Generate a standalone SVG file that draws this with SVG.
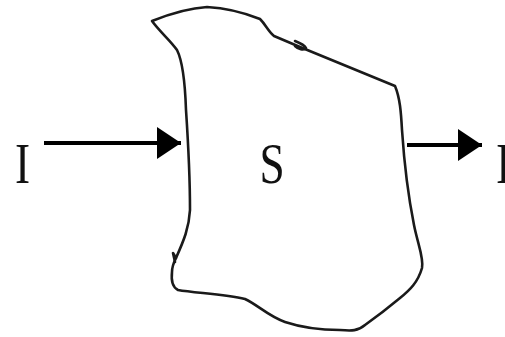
<svg xmlns="http://www.w3.org/2000/svg" width="505" height="337" viewBox="0 0 505 337">
<style>
.outline{fill:none;stroke:#1a1a1a;stroke-width:2.6;stroke-linejoin:round;stroke-linecap:round}
.conn{stroke:#000;stroke-width:4;fill:none}
.lbl{font-family:"Liberation Serif","Times New Roman",serif;font-size:58px;fill:#111;text-anchor:middle}
</style>
<defs>
<marker id="ah" markerUnits="userSpaceOnUse" markerWidth="26" markerHeight="34" refX="24" refY="16" orient="auto">
<path d="M0,0 L24,16 L0,32 Z" fill="#000"/>
</marker>
</defs>
<g id="system">
<path class="outline" d="M152,21 C172,13 190,8 207,7 C226,8 245,13 260,19 C266,25 268,31 274,36 L300,47 L395,86 C400,98 401,112 402,130 C404,160 408,195 414,225 C418,245 424,258 422,268 C418,282 410,290 400,298 C388,308 372,320 365,325 C358,331 352,331 340,330 C320,330 300,327 285,322 C268,316 258,305 245,299 C225,294 195,293 178,290 C172,287 171,281 172,272 C172,266 174,262 176,258 C184,240 189,228 190,210 C190,180 188,140 186,110 C185,80 182,60 177,50 C170,40 160,32 152,21 Z"/>
<path class="outline" d="M295,41 C300,43 305,46 306,48 C304,51 298,49 295,46" stroke-width="2"/>
<path class="outline" d="M176,258 L173,253 L175,262" stroke-width="2"/>
<text class="lbl" transform="translate(272,183) scale(0.78,1)" x="0" y="0">S</text>
</g>
<g id="input">
<text class="lbl" transform="translate(22.5,183) scale(0.78,1)" x="0" y="0">I</text>
</g>
<g id="output">
<text class="lbl" transform="translate(503.5,183) scale(0.78,1)" x="0" y="0">I</text>
</g>
<g id="connectors">
<line class="conn" x1="44" y1="143" x2="181" y2="143" marker-end="url(#ah)"/>
<line class="conn" x1="407" y1="145" x2="482" y2="145" marker-end="url(#ah)"/>
</g>
</svg>
